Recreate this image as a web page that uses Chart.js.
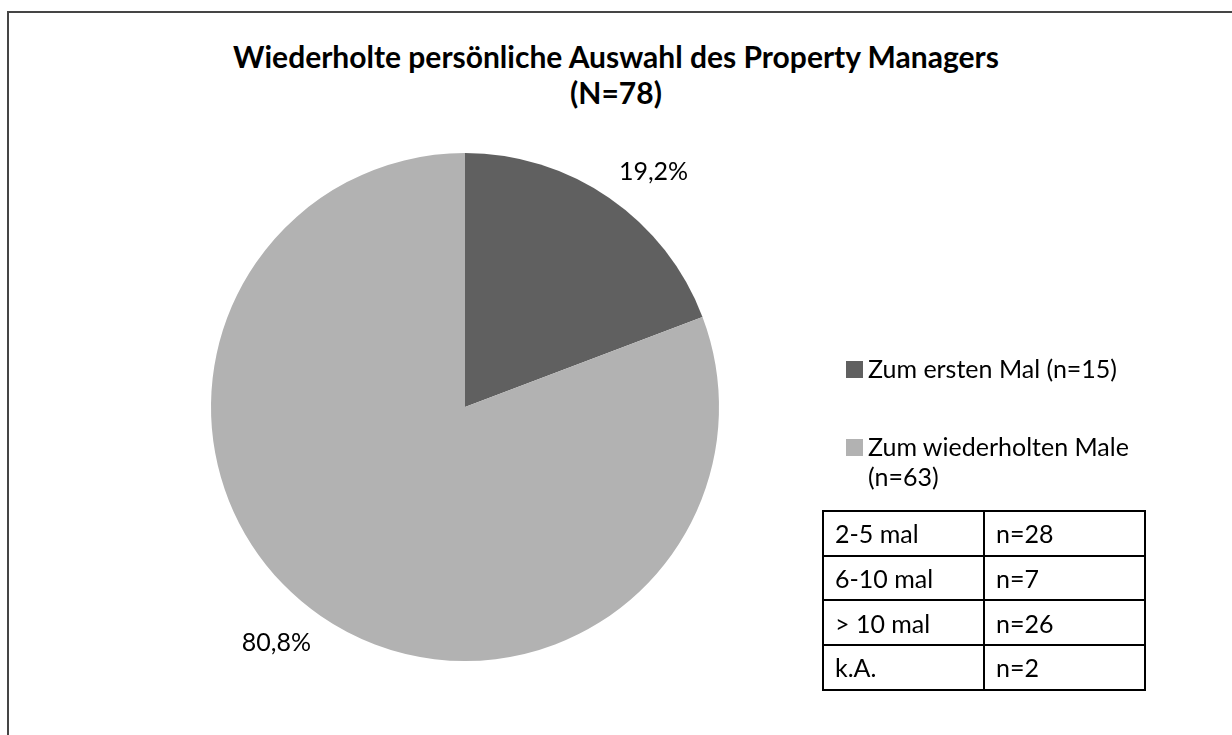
<!DOCTYPE html>
<html>
<head>
<meta charset="utf-8">
<script src="https://cdn.jsdelivr.net/npm/chart.js@4.4.1/dist/chart.umd.min.js"></script>
<style>
    body { margin: 0; background: #fff; font-family: Lato, sans-serif; }
    #wrap { position: relative; width: 1232px; height: 735px; overflow: hidden; }
    #frame { position: absolute; left: 7px; top: 11px; width: 1400px; height: 900px; border-left: 2px solid #454545; border-top: 2px solid #454545; }
    #pie { position: absolute; left: 0; top: 0; }
    .title { position: absolute; left: 0; width: 1232px; text-align: center; font-weight: bold; font-size: 30px; color: #000; }
    .legend-item { position: absolute; left: 846px; font-size: 25px; line-height: 30px; color: #000; }
    .legend-box { position: absolute; left: 0; top: 8px; width: 17px; height: 17px; }
    .legend-text { margin-left: 22px; }
    #subTable { position: absolute; left: 822px; top: 510px; border-collapse: collapse; font-size: 25px; table-layout: fixed; }
    #subTable td { border: 2px solid #000; height: 43px; width: 150px; padding: 0 0 0 11px; vertical-align: middle; box-sizing: border-box; }
</style>
</head>
<body>
<div id="wrap">
    <div id="frame"></div>
    <div class="title" style="top: 38px;">Wiederholte persönliche Auswahl des Property Managers</div>
    <div class="title" style="top: 74px;">(N=78)</div>
    <canvas id="pie" width="1232" height="735"></canvas>
    <div id="legend"></div>
    <table id="subTable"></table>
</div>
<script>
const labels = ['Zum ersten Mal (n=15)', 'Zum wiederholten Male (n=63)'];
const legendLines = [['Zum ersten Mal (n=15)'], ['Zum wiederholten Male', '(n=63)']];
const values = [15, 63];
const percentLabels = ['19,2%', '80,8%'];
const colors = ['#606060', '#b2b2b2'];
const subGroups = ['2-5 mal', '6-10 mal', '> 10 mal', 'k.A.'];
const subCounts = ['n=28', 'n=7', 'n=26', 'n=2'];

function renderLegend() {
    const legend = document.getElementById('legend');
    const tops = [353, 431];
    legend.innerHTML = legendLines.map((lines, i) => `
        <div class="legend-item" style="top: ${tops[i]}px;">
            <div class="legend-box" style="background: ${colors[i]};"></div>
            <div class="legend-text">${lines.join('<br>')}</div>
        </div>
    `).join('');
}

function renderTable() {
    const table = document.getElementById('subTable');
    table.innerHTML = subGroups.map((g, i) => `
        <tr style="height: 44.7px;">
            <td style="width: 161px;">${g}</td>
            <td style="width: 161px;">${subCounts[i]}</td>
        </tr>
    `).join('');
}

// percentage labels sit just outside the slice, corner towards the centre
const outsideLabels = {
    id: 'outsideLabels',
    afterDatasetsDraw(chart) {
        const ctx = chart.ctx;
        ctx.save();
        ctx.font = '25px Lato';
        ctx.fillStyle = '#000';
        chart.getDatasetMeta(0).data.forEach((arc, i) => {
            const mid = (arc.startAngle + arc.endAngle) / 2;
            const r = arc.outerRadius + 17;
            const x = arc.x + Math.cos(mid) * r;
            const y = arc.y + Math.sin(mid) * r;
            ctx.textAlign = Math.cos(mid) >= 0 ? 'left' : 'right';
            ctx.textBaseline = Math.sin(mid) >= 0 ? 'top' : 'bottom';
            ctx.fillText(percentLabels[i], x, y);
        });
        ctx.restore();
    }
};

function initChart() {
    new Chart(document.getElementById('pie'), {
        type: 'pie',
        data: {
            labels: labels,
            datasets: [{ data: values, backgroundColor: colors, borderWidth: 0 }]
        },
        options: {
            responsive: false,
            animation: false,
            layout: { padding: { left: 211, right: 513, top: 153, bottom: 74 } },
            plugins: { legend: { display: false }, tooltip: { enabled: false } }
        },
        plugins: [outsideLabels]
    });
}

renderLegend();
renderTable();
initChart();
</script>
</body>
</html>
